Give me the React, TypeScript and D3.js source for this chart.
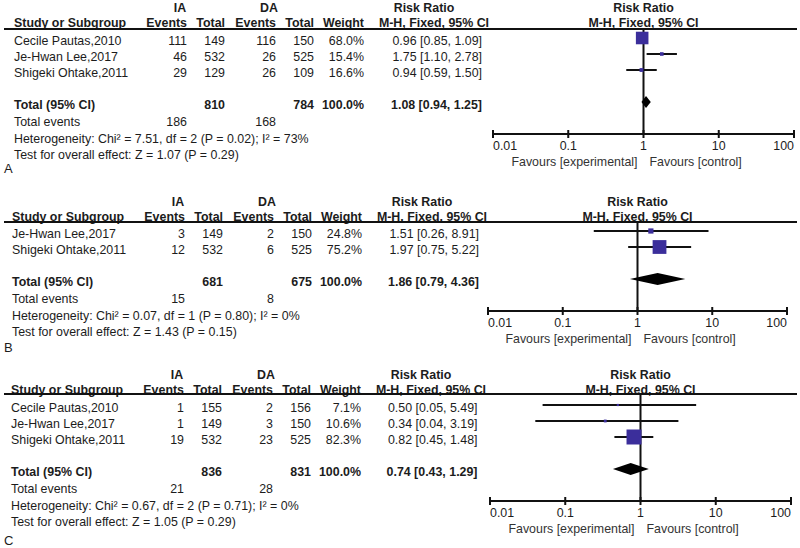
import React from "react";
import * as d3 from "d3";

// ---------- DATA ----------
const studiesA = ["Cecile Pautas,2010", "Je-Hwan Lee,2017", "Shigeki Ohtake,2011"];
const iaEventsA = [111, 46, 29];
const iaTotalA = [149, 532, 129];
const daEventsA = [116, 26, 26];
const daTotalA = [150, 525, 109];
const weightA = [68.0, 15.4, 16.6];
const rrA = [0.96, 1.75, 0.94];
const loA = [0.85, 1.1, 0.59];
const hiA = [1.09, 2.78, 1.5];
const pooledA = [1.08, 0.94, 1.25];
const sumsA = [810, 784, 186, 168];
const hetA = "Heterogeneity: Chi² = 7.51, df = 2 (P = 0.02); I² = 73%";
const testA = "Test for overall effect: Z = 1.07 (P = 0.29)";

const studiesB = ["Je-Hwan Lee,2017", "Shigeki Ohtake,2011"];
const iaEventsB = [3, 12];
const iaTotalB = [149, 532];
const daEventsB = [2, 6];
const daTotalB = [150, 525];
const weightB = [24.8, 75.2];
const rrB = [1.51, 1.97];
const loB = [0.26, 0.75];
const hiB = [8.91, 5.22];
const pooledB = [1.86, 0.79, 4.36];
const sumsB = [681, 675, 15, 8];
const hetB = "Heterogeneity: Chi² = 0.07, df = 1 (P = 0.80); I² = 0%";
const testB = "Test for overall effect: Z = 1.43 (P = 0.15)";

const studiesC = ["Cecile Pautas,2010", "Je-Hwan Lee,2017", "Shigeki Ohtake,2011"];
const iaEventsC = [1, 1, 19];
const iaTotalC = [155, 149, 532];
const daEventsC = [2, 3, 23];
const daTotalC = [156, 150, 525];
const weightC = [7.1, 10.6, 82.3];
const rrC = [0.5, 0.34, 0.82];
const loC = [0.05, 0.04, 0.45];
const hiC = [5.49, 3.19, 1.48];
const pooledC = [0.74, 0.43, 1.29];
const sumsC = [836, 831, 21, 28];
const hetC = "Heterogeneity: Chi² = 0.67, df = 2 (P = 0.71); I² = 0%";
const testC = "Test for overall effect: Z = 1.05 (P = 0.29)";

const axisTicks = [0.01, 0.1, 1, 10, 100];
const axisTickLabels = ["0.01", "0.1", "1", "10", "100"];
const panelLetters = ["A", "B", "C"];

// ---------- LAYOUT ----------
const layouts = [
  { labelY: 8, headY: 23, hl: 29, row0: 41, dx: 0, x0: 493, x1: 794, letterY: 168 },
  { labelY: 202, headY: 217, hl: 222, row0: 234, dx: -2, x0: 488, x1: 787, letterY: 347 },
  { labelY: 375, headY: 390, hl: 394, row0: 408, dx: -3, x0: 490, x1: 791, letterY: 540 },
];

const panels = [
  { studies: studiesA, iaE: iaEventsA, iaT: iaTotalA, daE: daEventsA, daT: daTotalA, w: weightA, rr: rrA, lo: loA, hi: hiA, pooled: pooledA, sums: sumsA, het: hetA, test: testA },
  { studies: studiesB, iaE: iaEventsB, iaT: iaTotalB, daE: daEventsB, daT: daTotalB, w: weightB, rr: rrB, lo: loB, hi: hiB, pooled: pooledB, sums: sumsB, het: hetB, test: testB },
  { studies: studiesC, iaE: iaEventsC, iaT: iaTotalC, daE: daEventsC, daT: daTotalC, w: weightC, rr: rrC, lo: loC, hi: hiC, pooled: pooledC, sums: sumsC, het: hetC, test: testC },
];

const FONT = "'Liberation Sans', Arial, Helvetica, sans-serif";
const TXT = "#1c1c1c";
const SQ = "#3b2e9b";
const ROW = 16;

const sizeScale = d3.scaleLinear().domain([0, 100]).range([1, 18]);
const fmt2 = (v: number) => v.toFixed(2);
const ci = (r: number, l: number, h: number) => `${fmt2(r)} [${fmt2(l)}, ${fmt2(h)}]`;

function Panel({ p, L, letter }: any) {
  const x = d3.scaleLog().domain([0.01, 100]).range([L.x0, L.x1]);
  const dx = L.dx;
  const n = p.studies.length;
  const rowY = (i: number) => L.row0 + i * ROW;
  const totalY = L.row0 + (n + 1) * ROW;
  const evY = totalY + 17;
  const hetY = totalY + 34;
  const testY = totalY + 50;
  const axisY = totalY + 29;
  const markOff = -3;
  const t = { fontFamily: FONT, fontSize: 12.4, fill: TXT } as any;
  const b = { ...t, fontWeight: "bold" };
  const cols = { ie: 187 + dx, it: 225 + dx, de: 276 + dx, dt: 314 + dx, w: 364 + dx, rr: 482 + dx * 1.5 };
  const x1 = x(1);
  const diamondH = 12;
  const py = totalY + markOff;
  const dPath = `M${x(p.pooled[1])},${py} L${x(p.pooled[0])},${py - diamondH / 2} L${x(p.pooled[2])},${py} L${x(p.pooled[0])},${py + diamondH / 2} Z`;
  return (
    <g>
      <text {...b} x={180 + dx} y={L.labelY} dy="0.35em" textAnchor="middle">IA</text>
      <text {...b} x={269 + dx} y={L.labelY} dy="0.35em" textAnchor="middle">DA</text>
      <text {...b} x={424 + dx} y={L.labelY} dy="0.35em" textAnchor="middle">Risk Ratio</text>
      <text {...b} x={x1} y={L.labelY} dy="0.35em" textAnchor="middle">Risk Ratio</text>
      <text {...b} x={14 + dx} y={L.headY} dy="0.35em">Study or Subgroup</text>
      <text {...b} x={cols.ie} y={L.headY} dy="0.35em" textAnchor="end">Events</text>
      <text {...b} x={cols.it} y={L.headY} dy="0.35em" textAnchor="end">Total</text>
      <text {...b} x={cols.de} y={L.headY} dy="0.35em" textAnchor="end">Events</text>
      <text {...b} x={cols.dt} y={L.headY} dy="0.35em" textAnchor="end">Total</text>
      <text {...b} x={cols.w} y={L.headY} dy="0.35em" textAnchor="end">Weight</text>
      <text {...b} x={434 + dx} y={L.headY} dy="0.35em" textAnchor="middle">M-H, Fixed, 95% CI</text>
      <text {...b} x={x1} y={L.headY} dy="0.35em" textAnchor="middle">M-H, Fixed, 95% CI</text>
      <line x1={4} x2={797} y1={L.hl} y2={L.hl} stroke="#111" strokeWidth={2} />
      {p.studies.map((s: string, i: number) => (
        <g key={s}>
          <text {...t} x={14 + dx} y={rowY(i)} dy="0.35em">{s}</text>
          <text {...t} x={cols.ie} y={rowY(i)} dy="0.35em" textAnchor="end">{p.iaE[i]}</text>
          <text {...t} x={cols.it} y={rowY(i)} dy="0.35em" textAnchor="end">{p.iaT[i]}</text>
          <text {...t} x={cols.de} y={rowY(i)} dy="0.35em" textAnchor="end">{p.daE[i]}</text>
          <text {...t} x={cols.dt} y={rowY(i)} dy="0.35em" textAnchor="end">{p.daT[i]}</text>
          <text {...t} x={cols.w} y={rowY(i)} dy="0.35em" textAnchor="end">{p.w[i].toFixed(1) + "%"}</text>
          <text {...t} x={cols.rr} y={rowY(i)} dy="0.35em" textAnchor="end">{ci(p.rr[i], p.lo[i], p.hi[i])}</text>
        </g>
      ))}
      <text {...b} x={14 + dx} y={totalY} dy="0.35em">Total (95% CI)</text>
      <text {...b} x={cols.it} y={totalY} dy="0.35em" textAnchor="end">{p.sums[0]}</text>
      <text {...b} x={cols.dt} y={totalY} dy="0.35em" textAnchor="end">{p.sums[1]}</text>
      <text {...b} x={cols.w} y={totalY} dy="0.35em" textAnchor="end">100.0%</text>
      <text {...b} x={cols.rr} y={totalY} dy="0.35em" textAnchor="end">{ci(p.pooled[0], p.pooled[1], p.pooled[2])}</text>
      <text {...t} x={14 + dx} y={evY} dy="0.35em">Total events</text>
      <text {...t} x={cols.ie} y={evY} dy="0.35em" textAnchor="end">{p.sums[2]}</text>
      <text {...t} x={cols.de} y={evY} dy="0.35em" textAnchor="end">{p.sums[3]}</text>
      <text {...t} x={14 + dx} y={hetY} dy="0.35em">{p.het}</text>
      <text {...t} x={14 + dx} y={testY} dy="0.35em">{p.test}</text>
      <text {...t} fontSize={13} x={4} y={L.letterY} dy="0.35em">{letter}</text>
      <line x1={x1} x2={x1} y1={L.hl} y2={axisY} stroke="#111" strokeWidth={2} />
      {p.studies.map((s: string, i: number) => {
        const yy = rowY(i) + markOff;
        const sz = sizeScale(p.w[i]);
        return (
          <g key={"f" + s}>
            <line x1={x(p.lo[i])} x2={x(p.hi[i])} y1={yy} y2={yy} stroke="#111" strokeWidth={2} />
            <rect x={x(p.rr[i]) - sz / 2} y={yy - sz / 2} width={sz} height={sz} fill={SQ} />
          </g>
        );
      })}
      <path d={dPath} fill="#000" />
      <line x1={L.x0} x2={L.x1} y1={axisY} y2={axisY} stroke="#111" strokeWidth={2} />
      {axisTicks.map((v, i) => (
        <g key={"t" + v}>
          <line x1={x(v)} x2={x(v)} y1={axisY - 4} y2={axisY + 4} stroke="#111" strokeWidth={2} />
          <text {...t} x={x(v)} y={axisY + 12} dy="0.35em"
            textAnchor={i === 0 ? "start" : i === axisTicks.length - 1 ? "end" : "middle"}>{axisTickLabels[i]}</text>
        </g>
      ))}
      <text {...t} fill="#333" x={x1 - 6} y={axisY + 28} dy="0.35em" textAnchor="end">Favours [experimental]</text>
      <text {...t} fill="#333" x={x1 + 6} y={axisY + 28} dy="0.35em" textAnchor="start">Favours [control]</text>
    </g>
  );
}

export default function App() {
  return (
    <svg width={800} height={548} style={{ position: "absolute", left: 0, top: 0, background: "#fff" }}>
      <rect width={800} height={548} fill="#fff" />
      {panels.map((p, i) => (
        <Panel key={i} p={p} L={layouts[i]} letter={panelLetters[i]} />
      ))}
    </svg>
  );
}
